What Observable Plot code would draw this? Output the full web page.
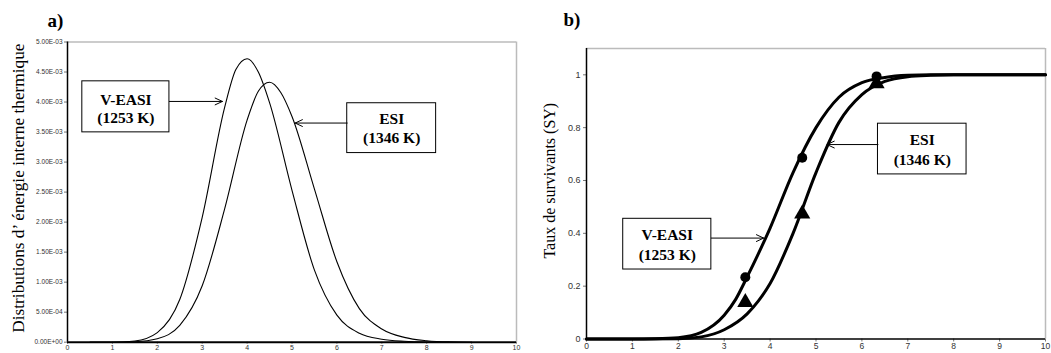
<!DOCTYPE html>
<html>
<head>
<meta charset="utf-8">
<script src="https://cdn.jsdelivr.net/npm/d3@7"></script>
<script src="https://cdn.jsdelivr.net/npm/@observablehq/plot@0.6"></script>
<style>
  body { margin: 0; background: white; }
  #wrap { position: relative; width: 1051px; height: 353px; overflow: hidden; background: white; }
  #wrap svg { position: absolute; top: 0; overflow: visible; }
</style>
</head>
<body>
<div id="wrap"></div>
<script>
// ---------- Panel a) : distributions ----------
const distVeasiX = [0.5, 1.0, 1.5, 2.0, 2.5, 3.0, 3.5, 3.75, 4.0, 4.25, 4.5, 5.0, 5.5, 6.0, 6.5, 7.0, 7.5, 8.0, 8.5];
const distVeasiY = [0, 0, 0.00002, 0.00016, 0.00071, 0.00208, 0.00391, 0.00454, 0.00472, 0.00450, 0.00399, 0.00253, 0.00120, 0.00045, 0.00015, 0.00005, 0.000015, 0.000003, 0];
const distEsiX = [0.5, 1.0, 1.5, 2.0, 2.5, 3.0, 3.5, 4.0, 4.25, 4.5, 4.75, 5.0, 5.5, 6.0, 6.5, 7.0, 7.5, 8.0, 8.5, 9.0];
const distEsiY = [0, 0, 0.000008, 0.000058, 0.00028, 0.00094, 0.00222, 0.00370, 0.00418, 0.00433, 0.00416, 0.00376, 0.00255, 0.00134, 0.00056, 0.00022, 0.00008, 0.000025, 0.000005, 0];
const xTicksA = [0, 1, 2, 3, 4, 5, 6, 7, 8, 9, 10];
const yTicksA = [0, 0.0005, 0.001, 0.0015, 0.002, 0.0025, 0.003, 0.0035, 0.004, 0.0045, 0.005];
const yTickLabelsA = ["0.00E+00", "5.00E-04", "1.00E-03", "1.50E-03", "2.00E-03", "2.50E-03", "3.00E-03", "3.50E-03", "4.00E-03", "4.50E-03", "5.00E-03"];

// ---------- Panel b) : survival rate ----------
const survVeasiX = [0, 1, 1.5, 2.0, 2.5, 3.0, 3.25, 3.5, 4.0, 4.5, 5.0, 5.5, 6.0, 6.5, 7.0, 7.5, 8, 10];
const survVeasiY = [0, 0, 0.001, 0.005, 0.025, 0.09, 0.15, 0.235, 0.42, 0.63, 0.80, 0.915, 0.97, 0.99, 0.998, 1, 1, 1];
const survEsiX = [0, 1, 2.0, 2.5, 3.0, 3.5, 3.75, 4.0, 4.5, 5.0, 5.5, 6.0, 6.5, 7.0, 7.5, 8.0, 10];
const survEsiY = [0, 0, 0.001, 0.008, 0.035, 0.095, 0.145, 0.21, 0.40, 0.63, 0.82, 0.925, 0.975, 0.993, 0.998, 1, 1];
const expX = [3.46, 4.70, 6.32];
const expVeasiY = [0.234, 0.686, 0.994];
const expEsiY = [0.139, 0.474, 0.967];
const xTicksB = [0, 1, 2, 3, 4, 5, 6, 7, 8, 9, 10];
const yTicksB = [0, 0.2, 0.4, 0.6, 0.8, 1];
const yTickLabelsB = ["0", "0.2", "0.4", "0.6", "0.8", "1"];

// ---------- Annotations (data units) ----------
const annA = [
  {l1: "V-EASI", l2: "(1253 K)", bx1: 0.33, bx2: 2.27, by1: 0.003495, by2: 0.004345, t1: 0.00403, t2: 0.00373, ay: 0.00401, ax1: 2.27, ax2: 3.45},
  {l1: "ESI", l2: "(1346 K)", bx1: 6.23, bx2: 8.21, by1: 0.00315, by2: 0.00398, t1: 0.00371, t2: 0.00340, ay: 0.00365, ax1: 6.23, ax2: 5.07}
];
const annB = [
  {l1: "V-EASI", l2: "(1253 K)", bx1: 0.80, bx2: 2.72, by1: 0.263, by2: 0.455, t1: 0.392, t2: 0.319, ay: 0.382, ax1: 2.72, ax2: 3.86},
  {l1: "ESI", l2: "(1346 K)", bx1: 6.35, bx2: 8.28, by1: 0.623, by2: 0.815, t1: 0.755, t2: 0.679, ay: 0.736, ax1: 6.35, ax2: 5.24}
];

const serif = "'Liberation Serif', 'Times New Roman', Times, serif";
const sans = "'Liberation Sans', Arial, sans-serif";
const zip = (xs, ys) => xs.map((x, i) => ({x, y: ys[i]}));

function annotationMarks(ann) {
  return [
    Plot.rect(ann, {x1: "bx1", x2: "bx2", y1: "by1", y2: "by2", fill: "white", stroke: "black", strokeWidth: 1}),
    Plot.text(ann, {x: d => (d.bx1 + d.bx2) / 2, y: "t1", text: "l1", fontFamily: serif, fontWeight: "bold", fontSize: 15.5, fill: "black"}),
    Plot.text(ann, {x: d => (d.bx1 + d.bx2) / 2, y: "t2", text: "l2", fontFamily: serif, fontWeight: "bold", fontSize: 15.5, fill: "black"}),
    Plot.arrow(ann, {x1: "ax1", x2: "ax2", y1: "ay", y2: "ay", stroke: "black", strokeWidth: 1, headLength: 12, headAngle: 50})
  ];
}

const plotA = Plot.plot({
  width: 525, height: 353,
  marginLeft: 67, marginRight: 9, marginTop: 41.5, marginBottom: 11.3,
  x: {domain: [0, 10]},
  y: {domain: [0, 0.005]},
  style: {fontFamily: sans, background: "white", color: "black", overflow: "visible"},
  marks: [
    Plot.ruleY([0.005], {stroke: "#bbb", strokeWidth: 1.5}),
    Plot.ruleX([10], {stroke: "#bbb", strokeWidth: 1.5}),
    Plot.axisY({ticks: yTicksA, tickFormat: (d, i) => yTickLabelsA[i], fontSize: 6.5, tickSize: 3, tickPadding: 2, label: null, color: "#333", stroke: "#777"}),
    Plot.axisX({ticks: xTicksA, tickFormat: d => String(d), fontSize: 7, tickSize: 2, tickPadding: 1, label: null, color: "#333", stroke: "#777"}),
    Plot.line(zip(distVeasiX, distVeasiY), {x: "x", y: "y", curve: "monotone-x", stroke: "black", strokeWidth: 1.1}),
    Plot.line(zip(distEsiX, distEsiY), {x: "x", y: "y", curve: "monotone-x", stroke: "black", strokeWidth: 1.1}),
    Plot.ruleX([0], {stroke: "black", strokeWidth: 1.5}),
    Plot.ruleY([0], {stroke: "black", strokeWidth: 2}),
    ...annotationMarks(annA),
    Plot.text(["Distributions d’ énergie interne thermique"], {frameAnchor: "left", textAnchor: "middle", lineAnchor: "middle", dx: -49, dy: -4, rotate: -90, fontFamily: serif, fontSize: 17.3, fill: "black"}),
    Plot.text(["a)"], {frameAnchor: "top-left", dx: -20, dy: -29, fontFamily: serif, fontWeight: "bold", fontSize: 19, fill: "black"})
  ]
});

const plotB = Plot.plot({
  width: 526, height: 353,
  marginLeft: 61, marginRight: 6, marginTop: 47.9, marginBottom: 14.5,
  x: {domain: [0, 10]},
  y: {domain: [0, 1.1]},
  style: {fontFamily: sans, background: "white", color: "black", overflow: "visible"},
  marks: [
    Plot.ruleY([1.1], {stroke: "#bbb", strokeWidth: 1.5}),
    Plot.ruleX([10], {stroke: "#bbb", strokeWidth: 1.5}),
    Plot.axisY({ticks: yTicksB, tickFormat: (d, i) => yTickLabelsB[i], fontSize: 9, tickSize: 3, tickPadding: 3, label: null, color: "#333", stroke: "#777"}),
    Plot.axisX({ticks: xTicksB, tickFormat: d => String(d), fontSize: 8.5, tickSize: 3, tickPadding: 1, label: null, color: "#333", stroke: "#777"}),
    Plot.ruleX([0], {stroke: "black", strokeWidth: 1.5}),
    Plot.ruleY([0], {stroke: "black", strokeWidth: 1.5}),
    Plot.line(zip(survVeasiX, survVeasiY), {x: "x", y: "y", curve: "monotone-x", stroke: "black", strokeWidth: 3}),
    Plot.line(zip(survEsiX, survEsiY), {x: "x", y: "y", curve: "monotone-x", stroke: "black", strokeWidth: 3}),
    Plot.dot(zip(expX, expVeasiY), {x: "x", y: "y", r: 5, fill: "black", stroke: "none"}),
    Plot.dot(zip(expX, expEsiY), {x: "x", y: "y", r: 6, symbol: "triangle", fill: "black", stroke: "none"}),
    ...annotationMarks(annB),
    Plot.text(["Taux de survivants (SY)"], {frameAnchor: "left", textAnchor: "middle", lineAnchor: "middle", dx: -37, dy: -13, rotate: -90, fontFamily: serif, fontSize: 16, fill: "black"}),
    Plot.text(["b)"], {frameAnchor: "top-left", dx: -23, dy: -36, fontFamily: serif, fontWeight: "bold", fontSize: 19, fill: "black"})
  ]
});

plotA.style.left = "0px";
plotB.style.left = "525px";
document.getElementById("wrap").append(plotA, plotB);
</script>
</body>
</html>
